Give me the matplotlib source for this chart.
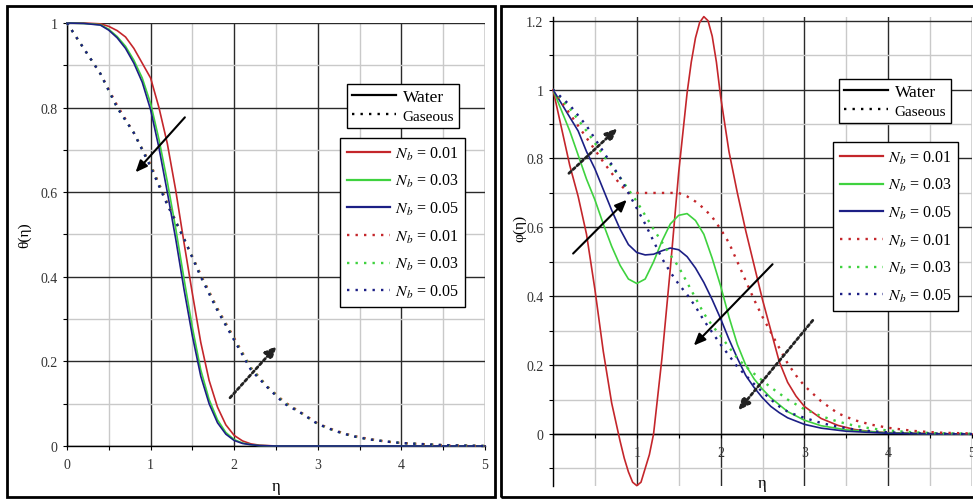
import matplotlib
matplotlib.use("Agg")
import matplotlib.pyplot as plt
from matplotlib.lines import Line2D
from matplotlib.patches import Rectangle
from matplotlib.ticker import MultipleLocator, FixedLocator

plt.rcParams['font.family'] = ['Liberation Serif', 'DejaVu Serif']
plt.rcParams['mathtext.fontset'] = 'stix'

# ---------------- data: left panel theta(eta) ----------------
eta_w_left = [0, 0.2, 0.4, 0.5, 0.6, 0.7, 0.8, 0.9, 1.0, 1.1, 1.2, 1.3, 1.4, 1.5,
              1.6, 1.7, 1.8, 1.9, 2.0, 2.1, 2.2, 2.3, 2.5, 3.0, 4.0, 5.0]
theta_water_nb001 = [1.0, 1.0, 0.998, 0.992, 0.982, 0.967, 0.94, 0.905, 0.87, 0.80, 0.715,
                     0.605, 0.48, 0.36, 0.245, 0.155, 0.092, 0.05, 0.025, 0.012, 0.005,
                     0.002, 0.0, 0.0, 0.0, 0.0]
theta_water_nb003 = [1.0, 0.999, 0.996, 0.985, 0.968, 0.945, 0.912, 0.87, 0.81, 0.725, 0.625,
                     0.515, 0.395, 0.28, 0.18, 0.11, 0.062, 0.032, 0.015, 0.007, 0.003,
                     0.001, 0.0, 0.0, 0.0, 0.0]
theta_water_nb005 = [1.0, 0.999, 0.995, 0.983, 0.965, 0.94, 0.905, 0.86, 0.795, 0.705, 0.60,
                     0.49, 0.37, 0.26, 0.165, 0.10, 0.055, 0.028, 0.013, 0.006, 0.003,
                     0.001, 0.0, 0.0, 0.0, 0.0]

eta_g_left = [0, 0.2, 0.4, 0.6, 0.8, 1.0, 1.2, 1.4, 1.6, 1.8, 2.0, 2.2, 2.4, 2.6, 2.8,
              3.0, 3.2, 3.4, 3.6, 3.8, 4.0, 4.5, 5.0]
theta_gas_nb001 = [1.0, 0.94, 0.88, 0.805, 0.74, 0.665, 0.575, 0.49, 0.405, 0.325, 0.255,
                   0.185, 0.14, 0.104, 0.079, 0.053, 0.037, 0.025, 0.017, 0.011, 0.007,
                   0.002, 0.0]
theta_gas_nb003 = [1.0, 0.94, 0.88, 0.80, 0.74, 0.662, 0.572, 0.49, 0.402, 0.322, 0.252,
                   0.183, 0.139, 0.102, 0.078, 0.052, 0.036, 0.024, 0.016, 0.011, 0.007,
                   0.002, 0.0]
theta_gas_nb005 = [1.0, 0.94, 0.88, 0.80, 0.74, 0.66, 0.57, 0.49, 0.40, 0.32, 0.25,
                   0.18, 0.138, 0.10, 0.078, 0.052, 0.036, 0.024, 0.016, 0.011, 0.007,
                   0.002, 0.0]

# ---------------- data: right panel phi(eta) ----------------
eta_r_water = [0, 0.1, 0.2, 0.3, 0.4, 0.5, 0.6, 0.7, 0.8, 0.85, 0.9, 0.95, 1.0, 1.05, 1.1,
               1.15, 1.2, 1.3, 1.4, 1.5, 1.6, 1.65, 1.7, 1.75, 1.8, 1.85, 1.9, 1.95, 2.0,
               2.1, 2.2, 2.3, 2.4, 2.5, 2.6, 2.7, 2.8, 2.9, 3.0, 3.2, 3.4, 3.6, 3.8, 4.0,
               4.5, 5.0]
phi_water_nb001 = [1.0, 0.89, 0.78, 0.69, 0.58, 0.42, 0.24, 0.09, -0.02, -0.07, -0.11, -0.14,
                   -0.15, -0.14, -0.10, -0.06, 0.0, 0.22, 0.48, 0.76, 0.99, 1.08, 1.15, 1.195,
                   1.212, 1.20, 1.155, 1.08, 0.98, 0.82, 0.70, 0.59, 0.49, 0.39, 0.30, 0.21,
                   0.15, 0.11, 0.08, 0.045, 0.025, 0.013, 0.007, 0.004, 0.001, 0.0]

eta_gb_water = [0, 0.1, 0.2, 0.3, 0.4, 0.5, 0.6, 0.7, 0.8, 0.9, 1.0, 1.1, 1.2, 1.3, 1.4,
                1.5, 1.6, 1.7, 1.8, 1.9, 2.0, 2.1, 2.2, 2.3, 2.4, 2.5, 2.6, 2.7, 2.8, 3.0,
                3.2, 3.5, 4.0, 4.5, 5.0]
phi_water_nb003 = [1.0, 0.94, 0.88, 0.81, 0.74, 0.68, 0.61, 0.545, 0.49, 0.45, 0.437, 0.45,
                   0.50, 0.56, 0.61, 0.635, 0.64, 0.62, 0.58, 0.51, 0.43, 0.34, 0.26, 0.20,
                   0.16, 0.13, 0.105, 0.085, 0.065, 0.04, 0.024, 0.012, 0.003, 0.001, 0.0]
phi_water_nb005 = [1.0, 0.96, 0.92, 0.88, 0.82, 0.77, 0.71, 0.65, 0.595, 0.55, 0.527, 0.52,
                   0.522, 0.532, 0.54, 0.535, 0.515, 0.482, 0.44, 0.39, 0.335, 0.275, 0.22,
                   0.17, 0.135, 0.105, 0.08, 0.062, 0.047, 0.028, 0.017, 0.008, 0.002,
                   0.0005, 0.0]

eta_gas_right = [0, 0.2, 0.4, 0.6, 0.8, 0.9, 1.0, 1.1, 1.2, 1.3, 1.4, 1.5, 1.6, 1.7, 1.8,
                 1.9, 2.0, 2.1, 2.2, 2.3, 2.4, 2.5, 2.6, 2.7, 2.8, 2.9, 3.0, 3.2, 3.4, 3.6,
                 3.8, 4.0, 4.3, 4.6, 5.0]
phi_gas_nb001 = [1.0, 0.93, 0.86, 0.79, 0.725, 0.70, 0.70, 0.70, 0.70, 0.70, 0.70, 0.70,
                 0.69, 0.675, 0.655, 0.63, 0.595, 0.555, 0.50, 0.445, 0.39, 0.34, 0.295,
                 0.25, 0.205, 0.17, 0.14, 0.095, 0.06, 0.04, 0.027, 0.018, 0.009, 0.004,
                 0.0015]
phi_gas_nb003 = [1.0, 0.945, 0.88, 0.81, 0.745, 0.71, 0.675, 0.635, 0.595, 0.557, 0.52,
                 0.485, 0.44, 0.395, 0.35, 0.315, 0.285, 0.252, 0.22, 0.196, 0.175, 0.155,
                 0.135, 0.118, 0.10, 0.086, 0.072, 0.052, 0.036, 0.024, 0.016, 0.01,
                 0.005, 0.002, 0.001]
phi_gas_nb005 = [1.0, 0.955, 0.895, 0.82, 0.745, 0.70, 0.655, 0.61, 0.56, 0.51, 0.47,
                 0.435, 0.405, 0.37, 0.33, 0.295, 0.26, 0.228, 0.195, 0.17, 0.145, 0.122,
                 0.10, 0.08, 0.065, 0.055, 0.047, 0.032, 0.021, 0.013, 0.008, 0.005,
                 0.002, 0.001, 0.0]

nb_labels = [r'$N_b$ = 0.01', r'$N_b$ = 0.03', r'$N_b$ = 0.05']
series_colors = ['#c4262b', '#3fd23f', '#1c1f85']

# annotation arrows (tail, head) in data coordinates
left_arrows = [((1.41, 0.777), (0.82, 0.647), 'solid'),
               ((1.95, 0.114), (2.51, 0.237), 'dotted')]
right_arrows = [((0.19, 0.757), (0.77, 0.888), 'dotted'),
                ((0.24, 0.524), (0.88, 0.680), 'solid'),
                ((2.62, 0.493), (1.68, 0.257), 'solid'),
                ((3.10, 0.330), (2.21, 0.068), 'dotted')]

W, H = 973, 502
fig = plt.figure(figsize=(W / 100, H / 100), dpi=100)
fig.patch.set_facecolor('white')

axL = fig.add_axes([67 / W, 1 - 447 / H, 418 / W, 423 / H])
axR = fig.add_axes([553 / W, 1 - 487 / H, 419 / W, (487 - 18.3) / H])

DOT = (0, (1, 2.6))
LW_S = 1.2
LW_D = 1.7


def style_axes(ax):
    ax.set_axisbelow(True)
    ax.grid(True, which='major', color='#2a2a2a', lw=1.0)
    ax.grid(True, which='minor', color='#c9c9c9', lw=1.0)
    for s in ['top', 'right']:
        ax.spines[s].set_visible(False)
    for s in ['left', 'bottom']:
        ax.spines[s].set_color('black')
        ax.spines[s].set_linewidth(1.0)
    ax.tick_params(which='both', direction='out', color='black', length=3, width=0.8,
                   labelsize=10, labelcolor='#333333')


# ---------- left panel ----------
axL.set_xlim(0, 5)
axL.set_ylim(0, 1)
axL.xaxis.set_major_locator(MultipleLocator(1))
axL.xaxis.set_minor_locator(MultipleLocator(0.5))
axL.yaxis.set_major_locator(MultipleLocator(0.2))
axL.yaxis.set_minor_locator(MultipleLocator(0.1))
style_axes(axL)
axL.set_xticks([0, 1, 2, 3, 4, 5], ['0', '1', '2', '3', '4', '5'])
axL.set_yticks([0, 0.2, 0.4, 0.6, 0.8, 1.0], ['0', '0.2', '0.4', '0.6', '0.8', '1'])
axL.tick_params(axis='x', which='both', pad=6)
axL.tick_params(axis='y', which='both', pad=4)

for yv, c in zip([theta_water_nb001, theta_water_nb003, theta_water_nb005], series_colors):
    axL.plot(eta_w_left, yv, color=c, lw=LW_S, clip_on=False, zorder=3)
for yv, c in zip([theta_gas_nb001, theta_gas_nb003, theta_gas_nb005], series_colors):
    axL.plot(eta_g_left, yv, color=c, lw=LW_D, ls=DOT, clip_on=False, zorder=3)

axL.set_xlabel('η', fontsize=12, labelpad=5)
axL.set_ylabel('θ(η)', fontsize=11, labelpad=6)

# ---------- right panel ----------
axR.set_xlim(0, 5)
axR.set_ylim(-0.151, 1.21)
axR.xaxis.set_minor_locator(MultipleLocator(0.5))
axR.yaxis.set_minor_locator(FixedLocator([-0.1, 0.1, 0.3, 0.5, 0.7, 0.9, 1.1]))
style_axes(axR)
axR.set_xticks([1, 2, 3, 4, 5], ['1', '2', '3', '4', '5'])
axR.set_yticks([0, 0.2, 0.4, 0.6, 0.8, 1.0, 1.2], ['0', '0.2', '0.4', '0.6', '0.8', '1', '1.2'])
axR.spines['bottom'].set_position(('data', 0))
axR.spines['left'].set_position(('data', 0))
axR.tick_params(axis='x', which='both', pad=6)
axR.tick_params(axis='y', which='both', pad=4)

axR.plot(eta_r_water, phi_water_nb001, color=series_colors[0], lw=LW_S, zorder=3,
         clip_on=False)
axR.plot(eta_gb_water, phi_water_nb003, color=series_colors[1], lw=LW_S, zorder=3)
axR.plot(eta_gb_water, phi_water_nb005, color=series_colors[2], lw=LW_S, zorder=3)
for yv, c in zip([phi_gas_nb001, phi_gas_nb003, phi_gas_nb005], series_colors):
    axR.plot(eta_gas_right, yv, color=c, lw=LW_D, ls=DOT, zorder=3)

axR.set_xlabel('η', fontsize=12)
axR.xaxis.set_label_coords(2.5 / 5, (-0.118 + 0.151) / (1.21 + 0.151))
axR.set_ylabel('φ(η)', fontsize=11)
axR.yaxis.set_label_coords(-27 / 419, (0.6 + 0.151) / (1.21 + 0.151))


def draw_arrows(ax, arrows):
    for tail, head, kind in arrows:
        if kind == 'solid':
            ax.annotate('', xy=head, xytext=tail, zorder=5,
                        arrowprops=dict(arrowstyle='-|>,head_length=0.7,head_width=0.3',
                                        color='black', lw=1.5, shrinkA=0, shrinkB=0))
        else:
            ax.annotate('', xy=head, xytext=tail, zorder=5,
                        arrowprops=dict(arrowstyle='-|>,head_length=0.7,head_width=0.3',
                                        color='#222222', lw=2.0, ls=(0, (1, 1)),
                                        shrinkA=0, shrinkB=0))


draw_arrows(axL, left_arrows)
draw_arrows(axR, right_arrows)


# ---------- legends ----------
def add_legends(ax, box1, box2):
    h1 = [Line2D([], [], color='black', lw=1.6),
          Line2D([], [], color='black', lw=LW_D, ls=DOT)]
    leg1 = ax.legend(h1, ['Water', 'Gaseous'], loc='upper left',
                     bbox_to_anchor=(box1[0] / W, 1 - box1[1] / H),
                     bbox_transform=fig.transFigure, borderaxespad=0,
                     frameon=True, fancybox=False, framealpha=1, edgecolor='black',
                     fontsize=12.5, handlelength=2.5, handletextpad=0.4,
                     labelspacing=0.15, borderpad=0.3)
    leg1.get_frame().set_linewidth(1.0)
    texts = leg1.get_texts()
    texts[1].set_fontsize(11)
    ax.add_artist(leg1)
    h2 = [Line2D([], [], color=c, lw=1.6) for c in series_colors] + \
         [Line2D([], [], color=c, lw=LW_D, ls=DOT) for c in series_colors]
    leg2 = ax.legend(h2, nb_labels + nb_labels, loc='upper left',
                     bbox_to_anchor=(box2[0] / W, 1 - box2[1] / H),
                     bbox_transform=fig.transFigure, borderaxespad=0,
                     frameon=True, fancybox=False, framealpha=1, edgecolor='black',
                     fontsize=11.5, handlelength=2.7, handletextpad=0.3,
                     labelspacing=0.66, borderpad=0.42)
    leg2.get_frame().set_linewidth(1.0)


add_legends(axL, (347, 85), (340, 139))
add_legends(axR, (839, 80), (833, 143))

# ---------- panel borders ----------
for x0, x1 in [(7, 495), (501, 975)]:
    fig.add_artist(Rectangle((x0 / W, 1 - 498 / H), (x1 - x0) / W, (498 - 7) / H,
                             transform=fig.transFigure, fill=False,
                             edgecolor='black', lw=2.0, zorder=10))

fig.savefig('out.png', dpi=100)
